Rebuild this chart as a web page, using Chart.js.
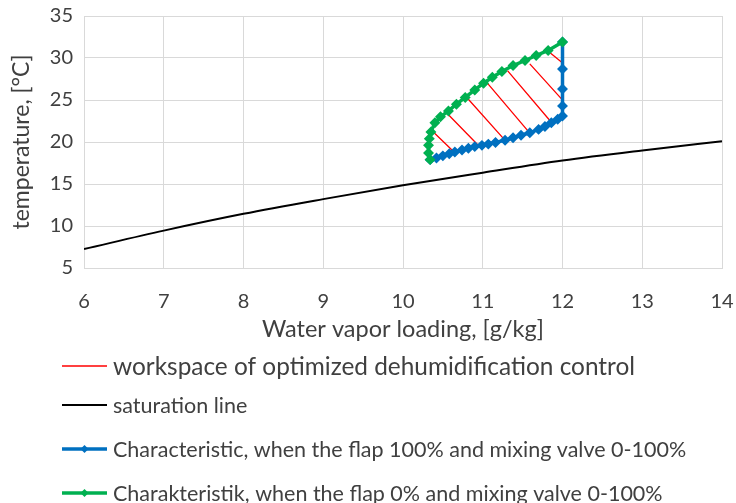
<!DOCTYPE html>
<html>
<head>
<meta charset="utf-8">
<script src="https://cdn.jsdelivr.net/npm/chart.js@4/dist/chart.umd.min.js"></script>
<style>
  html, body { margin: 0; padding: 0; background: #fff; }
</style>
</head>
<body>
<canvas id="chart" width="736" height="503"></canvas>
<script>
// axis ticks
const xTicks = [6, 7, 8, 9, 10, 11, 12, 13, 14];
const yTicks = [5, 10, 15, 20, 25, 30, 35];

// saturation line
const satX = [6, 7, 8, 9, 10, 11, 12, 13, 14];
const satY = [7.25, 9.45, 11.45, 13.2, 14.85, 16.35, 17.8, 19.0, 20.1];

// flap 100%, mixing valve 0-100%
const flap100X = [10.34, 10.42, 10.5, 10.58, 10.65, 10.74, 10.82, 10.9, 10.99, 11.07, 11.16, 11.28, 11.38, 11.48, 11.59, 11.7, 11.78, 11.86, 11.94, 12.0, 12.0, 12.0, 12.0, 12.0];
const flap100Y = [17.9, 18.1, 18.35, 18.6, 18.8, 19.05, 19.25, 19.45, 19.6, 19.75, 19.95, 20.2, 20.5, 20.8, 21.1, 21.5, 21.85, 22.3, 22.7, 23.1, 24.3, 26.3, 28.7, 31.9];

// flap 0%, mixing valve 0-100%
const flap0X = [10.34, 10.32, 10.32, 10.33, 10.35, 10.4, 10.47, 10.57, 10.67, 10.78, 10.9, 11.01, 11.12, 11.24, 11.38, 11.53, 11.67, 11.82, 12.0];
const flap0Y = [17.9, 18.7, 19.6, 20.4, 21.2, 22.3, 23.0, 23.7, 24.5, 25.3, 26.2, 27.0, 27.7, 28.4, 29.1, 29.7, 30.3, 30.9, 31.9];

// hatching of the workspace (segment start / end)
const hatchX1 = [10.38, 10.57, 10.80, 11.05, 11.31, 11.59, 11.84];
const hatchY1 = [21.2, 23.25, 25.3, 27.1, 28.5, 29.3, 30.65];
const hatchX2 = [10.64, 10.94, 11.28, 11.59, 11.86, 11.99, 11.99];
const hatchY2 = [18.8, 19.65, 20.2, 21.05, 22.35, 25.1, 29.5];

const toXY = (xs, ys) => xs.map((x, i) => ({ x: x, y: ys[i] }));

const hatchData = [];
hatchX1.forEach((x, i) => {
  hatchData.push({ x: x, y: hatchY1[i] });
  hatchData.push({ x: hatchX2[i], y: hatchY2[i] });
  hatchData.push({ x: hatchX2[i], y: null });
});

const TEXT = '#404040';
const GRID = '#d9d9d9';

// legend drawn one entry per row, under the axis title
const legendRows = {
  id: 'legendRows',
  afterDraw(chart) {
    const ctx = chart.ctx;
    const rowY = [366, 405, 449, 493];
    const rowFont = [24.4, 21.5, 21.5, 21.5];
    chart.data.datasets.forEach((ds, i) => {
      const y = rowY[i];
      ctx.save();
      ctx.strokeStyle = ds.borderColor;
      ctx.lineWidth = ds.borderWidth;
      ctx.beginPath();
      ctx.moveTo(62, y);
      ctx.lineTo(107, y);
      ctx.stroke();
      if (ds.pointRadius > 0) {
        const r = 4;
        ctx.fillStyle = ds.borderColor;
        ctx.beginPath();
        ctx.moveTo(84.5, y - r);
        ctx.lineTo(84.5 + r, y);
        ctx.lineTo(84.5, y + r);
        ctx.lineTo(84.5 - r, y);
        ctx.closePath();
        ctx.fill();
      }
      ctx.fillStyle = TEXT;
      ctx.font = rowFont[i] + 'px Lato';
      ctx.textBaseline = 'middle';
      ctx.fillText(ds.label, 113, y + 1);
      ctx.restore();
    });
  }
};

new Chart(document.getElementById('chart'), {
  type: 'scatter',
  data: {
    datasets: [{
      label: 'workspace of optimized dehumidification control',
      data: hatchData,
      showLine: true,
      spanGaps: false,
      borderColor: '#ff0000',
      borderWidth: 1.3,
      pointRadius: 0,
      order: 3
    }, {
      label: 'saturation line',
      data: toXY(satX, satY),
      showLine: true,
      borderColor: '#000000',
      borderWidth: 2,
      pointRadius: 0,
      cubicInterpolationMode: 'monotone',
      order: 2
    }, {
      label: 'Characteristic, when the flap 100% and mixing valve 0-100%',
      data: toXY(flap100X, flap100Y),
      showLine: true,
      borderColor: '#0070c0',
      backgroundColor: '#0070c0',
      borderWidth: 3.5,
      pointStyle: 'rectRot',
      pointRadius: 3,
      order: 1
    }, {
      label: 'Charakteristik, when the flap 0% and mixing valve 0-100%',
      data: toXY(flap0X, flap0Y),
      showLine: true,
      borderColor: '#00b050',
      backgroundColor: '#00b050',
      borderWidth: 3.5,
      pointStyle: 'rectRot',
      pointRadius: 3,
      order: 0
    }]
  },
  options: {
    responsive: false,
    animation: false,
    layout: { padding: { top: 16, right: 14, bottom: 155, left: 0 } },
    plugins: {
      legend: { display: false },
      tooltip: { enabled: false }
    },
    scales: {
      x: {
        type: 'linear',
        min: xTicks[0],
        max: xTicks[xTicks.length - 1],
        afterBuildTicks: s => { s.ticks = xTicks.map(v => ({ value: v })); },
        afterFit: s => { s.height = 80; s.paddingLeft = 0; s.paddingRight = 0; },
        grid: { color: GRID, drawTicks: false },
        border: { color: GRID },
        ticks: { padding: 22, color: TEXT, font: { family: 'Lato', size: 20 } },
        title: {
          display: true,
          text: 'Water vapor loading, [g/kg]',
          color: TEXT,
          font: { family: 'Lato', size: 23.5 },
          padding: { top: 0, bottom: 4 }
        }
      },
      y: {
        type: 'linear',
        min: yTicks[0],
        max: yTicks[yTicks.length - 1],
        afterBuildTicks: s => { s.ticks = yTicks.map(v => ({ value: v })); },
        afterFit: s => { s.width = 84; s.paddingTop = 0; s.paddingBottom = 0; },
        grid: { color: GRID, drawTicks: false },
        border: { color: GRID },
        ticks: { padding: 11, color: TEXT, font: { family: 'Lato', size: 20 } },
        title: {
          display: true,
          text: 'temperature, [°C]',
          color: TEXT,
          font: { family: 'Lato', size: 23 },
          padding: { top: 8, bottom: 0 }
        }
      }
    }
  },
  plugins: [legendRows]
});
</script>
</body>
</html>
